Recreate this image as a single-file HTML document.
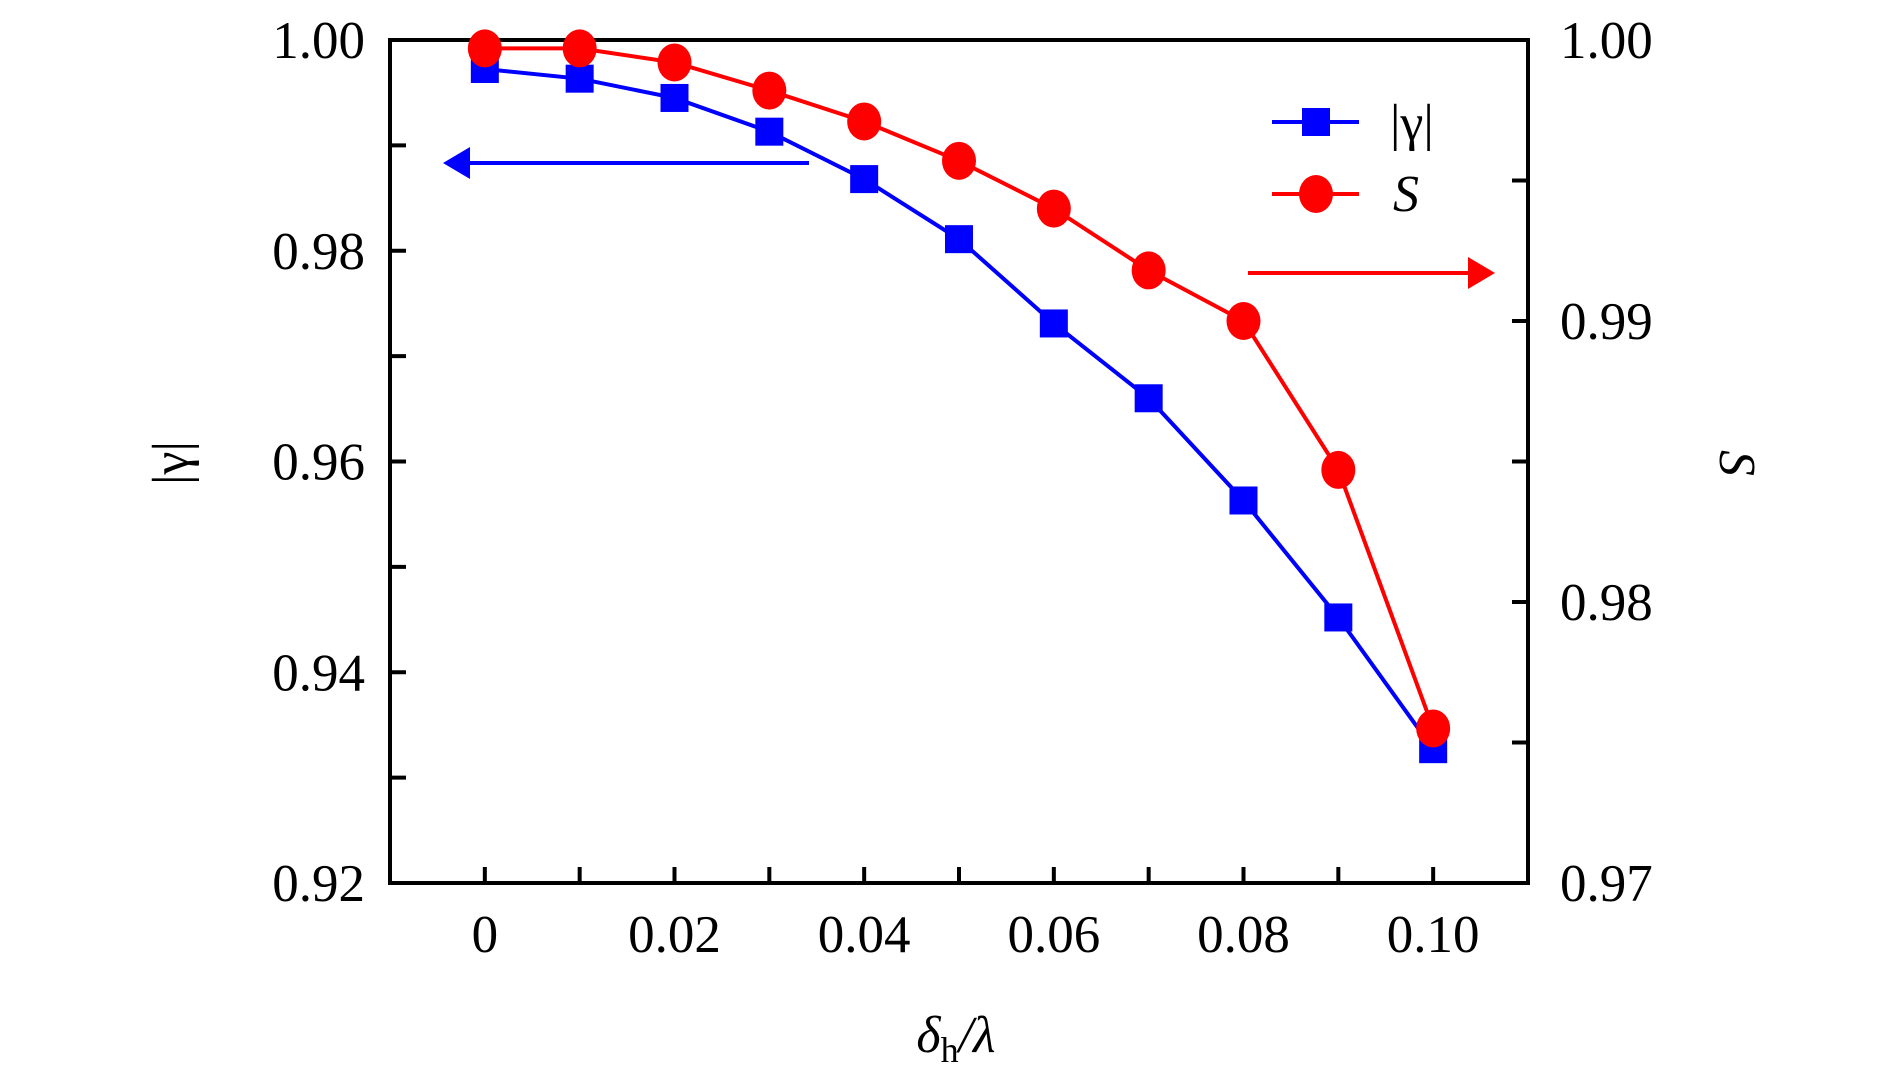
<!DOCTYPE html>
<html><head><meta charset="utf-8"><style>
body{margin:0;background:#fff}
text{font-family:"Liberation Serif",serif;fill:#000}
</style></head><body>
<svg id="chart" width="1890" height="1087" viewBox="0 0 1890 1087" xmlns="http://www.w3.org/2000/svg">
<g id="g"></g>
</svg>
<script>
const xValues=[0,0.01,0.02,0.03,0.04,0.05,0.06,0.07,0.08,0.09,0.10];
const gammaValues=[0.99725,0.99633,0.9945,0.9913,0.9868,0.9811,0.9731,0.9660,0.9563,0.9452,0.9327];
const sValues=[0.9997,0.9997,0.9992,0.9982,0.9971,0.9957,0.9940,0.9918,0.9900,0.9847,0.9755];
const xTicks=[0,0.02,0.04,0.06,0.08,0.10];
const xTickLabels=["0","0.02","0.04","0.06","0.08","0.10"];
const yLeftTicks=[0.92,0.94,0.96,0.98,1.00];
const yLeftLabels=["0.92","0.94","0.96","0.98","1.00"];
const yRightTicks=[0.97,0.98,0.99,1.00];
const yRightLabels=["0.97","0.98","0.99","1.00"];

const L=390,R=1528,T=40,B=883;
const xs=v=>L+(v+0.01)/0.12*(R-L);
const yl=v=>B-(v-0.92)/0.08*(B-T);
const yr=v=>B-(v-0.97)/0.03*(B-T);
const NS="http://www.w3.org/2000/svg";
const g=document.getElementById('g');
function mk(tag,attrs,parent){const e=document.createElementNS(NS,tag);for(const k in attrs)e.setAttribute(k,attrs[k]);(parent||g).appendChild(e);return e;}

for(let v=0.92;v<=1.0001;v+=0.01){
  const t=mk('line',{x1:L,x2:L+16,y1:yl(v),y2:yl(v),stroke:'#000','stroke-width':4});
  
  
}
yLeftTicks.forEach((v,i)=>{
  const t=mk('text',{x:365,y:yl(v)+18,'font-size':53,'text-anchor':'end'});t.textContent=yLeftLabels[i];
  
  
});
for(let v=0.97;v<=1.0001;v+=0.005){
  const t=mk('line',{x1:R-16,x2:R,y1:yr(v),y2:yr(v),stroke:'#000','stroke-width':4});
  
  
}
yRightTicks.forEach((v,i)=>{
  const t=mk('text',{x:1560,y:yr(v)+18,'font-size':53,'text-anchor':'start'});t.textContent=yRightLabels[i];
  
  
});
xValues.forEach(v=>{
  const t=mk('line',{x1:xs(v),x2:xs(v),y1:B,y2:B-16,stroke:'#000','stroke-width':4});
  
  
});
xTicks.forEach((v,i)=>{
  const t=mk('text',{x:xs(v),y:952,'font-size':53,'text-anchor':'middle'});t.textContent=xTickLabels[i];
  
  
});

const fr=mk('rect',{x:L,y:T,width:R-L,height:B-T,fill:'none',stroke:'#000','stroke-width':4});



const bl=mk('polyline',{points:xValues.map((x,i)=>xs(x)+','+yl(gammaValues[i])).join(' '),fill:'none',stroke:'#0000ff','stroke-width':4});


const rl=mk('polyline',{points:xValues.map((x,i)=>xs(x)+','+yr(sValues[i])).join(' '),fill:'none',stroke:'#ff0000','stroke-width':4});


xValues.forEach((x,i)=>{
  const s=mk('rect',{x:xs(x)-14,y:yl(gammaValues[i])-14,width:28,height:28,fill:'#0000ff'});
  
  
});
xValues.forEach((x,i)=>{
  const c=mk('ellipse',{cx:xs(x),cy:yr(sValues[i]),rx:17,ry:19,fill:'#ff0000'});
  
  
});

const ba=mk('g',{});


mk('line',{x1:809,x2:470,y1:163,y2:163,stroke:'#0000ff','stroke-width':4},ba);
mk('polygon',{points:'443,163 470,147 470,179',fill:'#0000ff'},ba);
const ra=mk('g',{});


mk('line',{x1:1248,x2:1470,y1:273,y2:273,stroke:'#ff0000','stroke-width':4},ra);
mk('polygon',{points:'1495,273 1468,257 1468,289',fill:'#ff0000'},ra);

const lg=mk('g',{});


mk('line',{x1:1272,x2:1359,y1:122,y2:122,stroke:'#0000ff','stroke-width':4},lg);
mk('rect',{x:1302,y:108,width:28,height:28,fill:'#0000ff'},lg);
const t1=mk('text',{x:1390,y:140,'font-size':52},lg);t1.textContent='|γ|';


mk('line',{x1:1272,x2:1359,y1:194,y2:194,stroke:'#ff0000','stroke-width':4},lg);
mk('ellipse',{cx:1316,cy:194,rx:17,ry:19,fill:'#ff0000'},lg);
const t2=mk('text',{x:1393,y:211,'font-size':52,'font-style':'italic'},lg);t2.textContent='S';



const xt=mk('text',{x:956,y:1052,'font-size':52,'text-anchor':'middle','font-style':'italic'});
xt.innerHTML='δ<tspan font-size="36" font-style="normal" dy="10">h</tspan><tspan dy="-10">/λ</tspan>';


const ylt=mk('text',{x:0,y:0,'font-size':52,'text-anchor':'middle',transform:'translate(188,463) rotate(-90)'});
ylt.textContent='|γ|';


const yrt=mk('text',{x:0,y:0,'font-size':52,'text-anchor':'middle','font-style':'italic',transform:'translate(1720,463) rotate(90)'});
yrt.textContent='S';


</script>
</body></html>
